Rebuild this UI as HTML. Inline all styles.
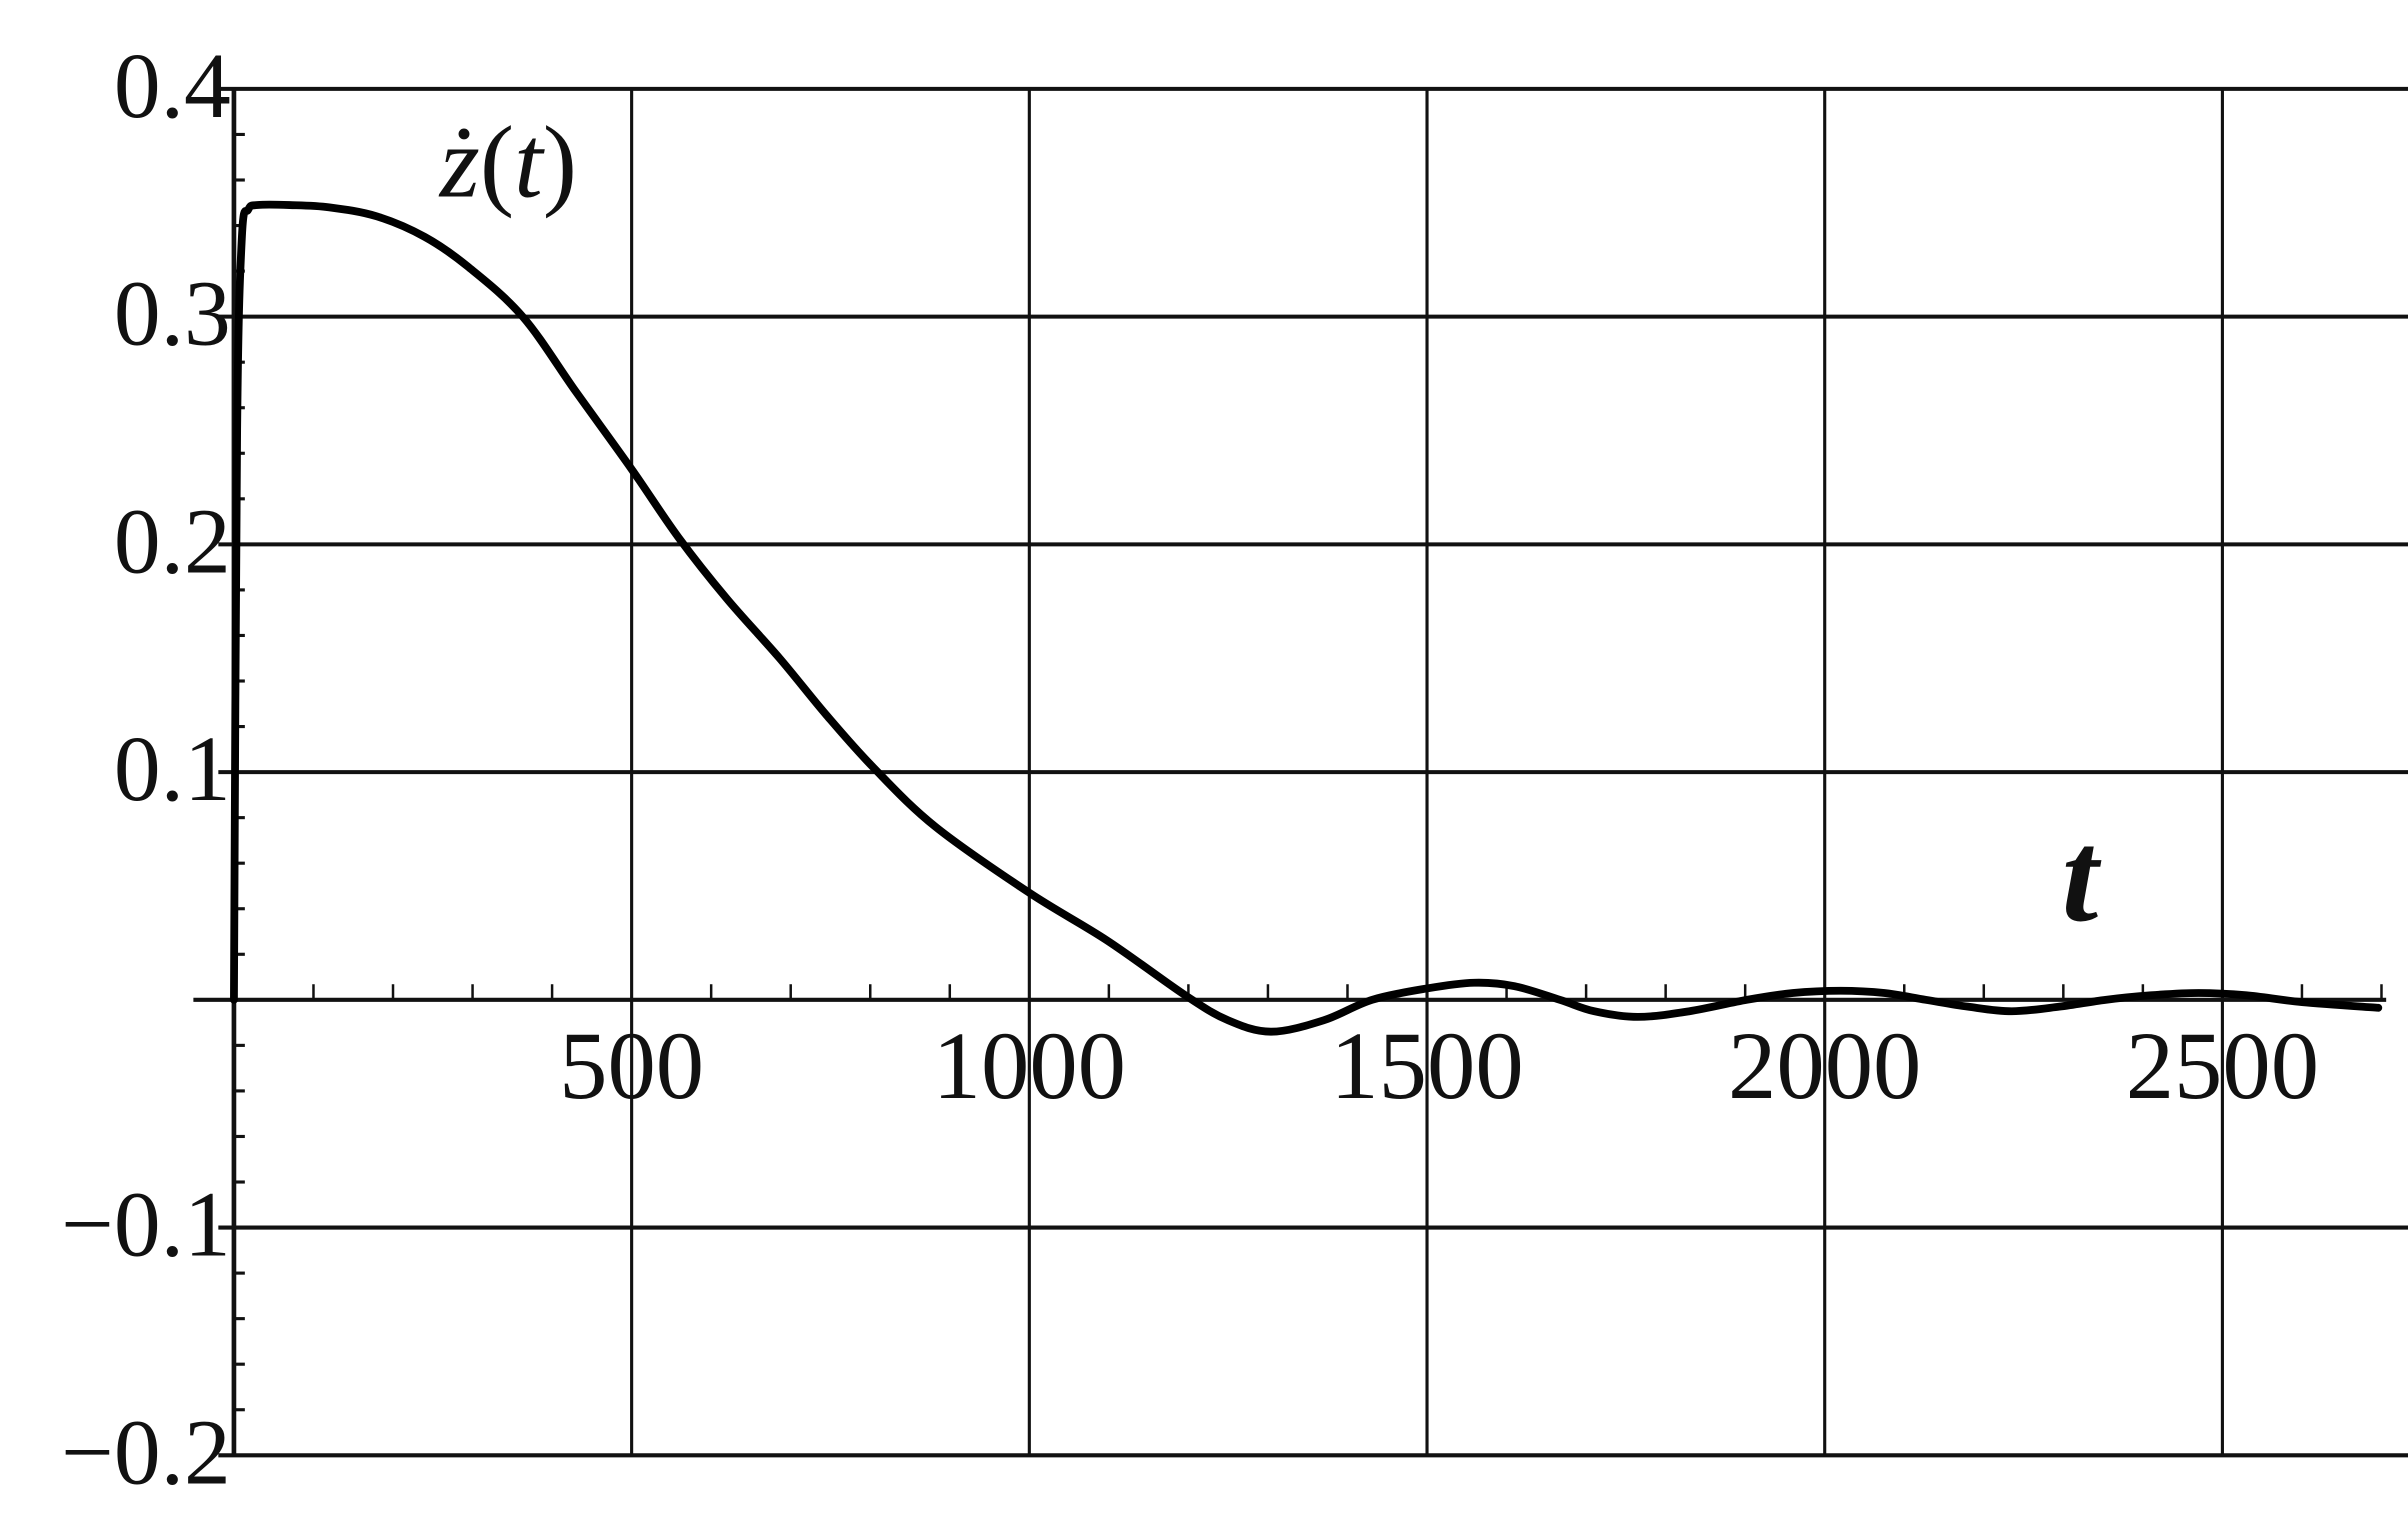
<!DOCTYPE html>
<html><head><meta charset="utf-8"><style>
html,body{margin:0;padding:0;background:#fff;}
svg{display:block;}
text{font-family:"Liberation Serif",serif;fill:#111;}
</style></head><body>
<svg id="chart" width="2408" height="1513" viewBox="0 0 1544 970" preserveAspectRatio="none" xmlns="http://www.w3.org/2000/svg">
<g id="grid"></g>
<g id="axes"></g>
<path id="curve" fill="none" stroke="#000" stroke-width="5" stroke-linejoin="round" stroke-linecap="round"/>
<text x="282" y="126" font-size="66" font-style="italic">ż<tspan font-style="normal">(</tspan>t<tspan font-style="normal">)</tspan></text>
<text x="1322" y="590" font-size="84" font-style="italic" font-weight="bold">t</text>
</svg>
<script>
const xTicks=[500,1000,1500,2000,2500];
const yTicks=[0.4,0.3,0.2,0.1,-0.1,-0.2];
const yTickLabels=["0.4","0.3","0.2","0.1","\u22120.1","\u22120.2"];
const tVals=[0,4,10,18,30,70,120,180,240,294,363,430,500,559,620,686,745,804,882,1000,1098,1196,1250,1304,1370,1431,1500,1559,1610,1667,1710,1765,1830,1902,1960,2020,2075,2127,2180,2235,2295,2353,2410,2470,2530,2600,2696];
const vVals=[0,0.25,0.335,0.347,0.349,0.349,0.348,0.344,0.335,0.322,0.300,0.267,0.233,0.203,0.176,0.150,0.125,0.102,0.076,0.047,0.026,0.002,-0.009,-0.014,-0.009,0.0,0.005,0.0075,0.006,0.0,-0.005,-0.0075,-0.005,0.0,0.003,0.004,0.003,0.0,-0.003,-0.005,-0.003,0.0,0.002,0.003,0.002,-0.001,-0.0035];
const X=t=>150+0.51*t;
const Y=v=>641-1460*v;
const NS="http://www.w3.org/2000/svg";
function mk(tag,attrs,parent){const e=document.createElementNS(NS,tag);for(const k in attrs)e.setAttribute(k,attrs[k]);parent.appendChild(e);return e;}
const grid=document.getElementById('grid'),axes=document.getElementById('axes');
xTicks.forEach(t=>{
  const l=mk('line',{x1:X(t),x2:X(t),y1:Y(0.4),y2:Y(-0.2),stroke:'#111','stroke-width':2},grid);
  
  
  const tx=mk('text',{x:X(t),y:704,'font-size':62,'text-anchor':'middle'},axes);
  tx.textContent=String(t);
  
  
});
yTicks.forEach((v,i)=>{
  const l=mk('line',{x1:140,x2:1544,y1:Y(v),y2:Y(v),stroke:'#111','stroke-width':2.6},grid);
  
  
  const tx=mk('text',{x:148,y:Y(v)+18,'font-size':60,'text-anchor':'end'},axes);
  tx.textContent=yTickLabels[i];
  
  
});
const xa=mk('line',{x1:124,x2:1530,y1:Y(0),y2:Y(0),stroke:'#111','stroke-width':2.6},axes);


const ya=mk('line',{x1:X(0),x2:X(0),y1:Y(0.4),y2:Y(-0.2),stroke:'#111','stroke-width':3},axes);


for(let t=100;t<=2700;t+=100){if(t%500===0)continue;
  const m=mk('line',{x1:X(t),x2:X(t),y1:Y(0),y2:Y(0)-10,stroke:'#111','stroke-width':1.6},axes);
  
  }
for(let k=-10;k<=20;k++){if(k%5===0)continue;const v=k*0.02;
  const m=mk('line',{x1:X(0),x2:X(0)+7,y1:Y(v),y2:Y(v),stroke:'#111','stroke-width':2},axes);
  
  }
const pts=tVals.map((t,i)=>[X(t),Y(vVals[i])]);
let d='M'+pts[0][0]+','+pts[0][1];
for(let i=0;i<pts.length-1;i++){const p0=pts[Math.max(0,i-1)],p1=pts[i],p2=pts[i+1],p3=pts[Math.min(pts.length-1,i+2)];
  const c1=[p1[0]+(p2[0]-p0[0])/6,p1[1]+(p2[1]-p0[1])/6],c2=[p2[0]-(p3[0]-p1[0])/6,p2[1]-(p3[1]-p1[1])/6];
  d+=` C${c1[0]},${c1[1]} ${c2[0]},${c2[1]} ${p2[0]},${p2[1]}`;}
document.getElementById('curve').setAttribute('d',d);
</script>
</body></html>
